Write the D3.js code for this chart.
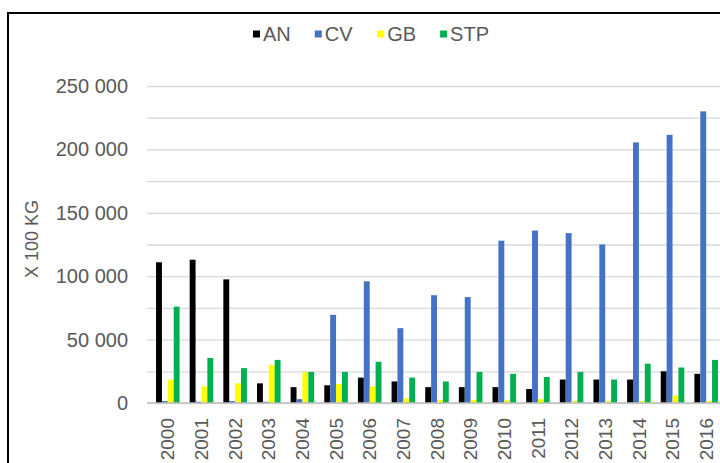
<!DOCTYPE html>
<html>
<head>
<meta charset="utf-8">
<script src="https://cdn.jsdelivr.net/npm/d3@7"></script>
<style>
  body { margin: 0; background: white; }
  #myPlot { width: 720px; height: 463px; overflow: hidden; }
</style>
</head>
<body>
<div id="myPlot"></div>
<script>
const rootSelector = "#myPlot"

const years = ["2000", "2001", "2002", "2003", "2004", "2005", "2006", "2007", "2008",
    "2009", "2010", "2011", "2012", "2013", "2014", "2015", "2016"]
const seriesNames = ["AN", "CV", "GB", "STP"]
const seriesColors = ["#000000", "#4472c4", "#ffff00", "#00b050"]
const anValues = [111000, 113000, 97500, 15500, 12500, 14000, 20000, 17000, 12500,
    12500, 12500, 11000, 18500, 18500, 18500, 25000, 23000]
const cvValues = [1500, 1000, 1500, 1000, 3000, 69500, 96000, 59000, 85000,
    83500, 128000, 136000, 134000, 125000, 205500, 211500, 230000]
const gbValues = [18500, 13000, 15500, 30000, 24500, 15000, 13000, 3500, 2500,
    2500, 2000, 3000, 1500, 1500, 1500, 6000, 1500]
const stpValues = [76000, 35500, 27500, 34000, 24500, 24500, 32500, 20000, 17000,
    24500, 23000, 20500, 24500, 18500, 31000, 28000, 34000]
const yTickValues = [0, 50000, 100000, 150000, 200000, 250000]
const yGridValues = d3.range(0, 250001, 25000)
const yTitle = "X 100 KG"

const allSeries = [anValues, cvValues, gbValues, stpValues]
const records = years.flatMap((year, i) =>
    seriesNames.map((name, j) => ({year: year, name: name, value: allSeries[j][i]})))

const clientWidth = 720
const clientHeight = 463
const fontFamily = "'Liberation Sans', Arial, sans-serif"
const textColor = "#595959"

const svg = d3.select(rootSelector).append("svg")
    .attr("width", clientWidth)
    .attr("height", clientHeight)
    .style("font-family", fontFamily)

// chart frame, right and bottom edges fall outside the picture
svg.append("rect")
    .attr("x", 8)
    .attr("y", 13)
    .attr("width", 800)
    .attr("height", 600)
    .attr("fill", "white")
    .attr("stroke", "black")
    .attr("stroke-width", 2)

const xScale = d3.scaleBand()
    .domain(years)
    .range([151, 723])
    .paddingInner(0.3)
    .paddingOuter(0.15)

const seriesScale = d3.scaleBand()
    .domain(seriesNames)
    .range([0, xScale.bandwidth()])

const yScale = d3.scaleLinear()
    .domain([0, 250000])
    .range([403, 86])

const colorScale = d3.scaleOrdinal()
    .domain(seriesNames)
    .range(seriesColors)

const spaceFormat = d3.formatLocale({decimal: ",", thousands: " ", grouping: [3], currency: ["", ""]}).format(",")

// gridlines
const grid = svg.append("g")
    .attr("transform", "translate(147, 0)")
    .call(d3.axisLeft(yScale).tickValues(yGridValues).tickSize(-600).tickFormat(""))
grid.select(".domain").remove()
grid.selectAll("line").attr("stroke", "#d9d9d9").attr("stroke-width", 1.3)

// y labels
const yAxis = svg.append("g")
    .attr("transform", "translate(147, 0)")
    .call(d3.axisLeft(yScale).tickValues(yTickValues).tickSize(0).tickPadding(19).tickFormat(spaceFormat))
yAxis.select(".domain").remove()
yAxis.selectAll("text")
    .attr("fill", textColor)
    .style("font-size", "20px")
    .style("font-family", fontFamily)

svg.append("text")
    .attr("transform", "translate(32, 239) rotate(-90)")
    .attr("text-anchor", "middle")
    .attr("dy", "0.35em")
    .attr("fill", textColor)
    .style("font-size", "18px")
    .text(yTitle)

// bars
svg.append("g")
    .selectAll("rect")
    .data(records)
    .enter().append("rect")
    .attr("x", d => xScale(d.year) + seriesScale(d.name))
    .attr("y", d => yScale(d.value))
    .attr("width", seriesScale.bandwidth())
    .attr("height", d => yScale(0) - yScale(d.value))
    .attr("fill", d => colorScale(d.name))

// x axis
const xAxis = svg.append("g")
    .attr("transform", `translate(0, ${yScale(0)})`)
    .call(d3.axisBottom(xScale).tickSize(0))
xAxis.select(".domain")
    .attr("d", "M147,0H730")
    .attr("stroke", "#bfbfbf")
    .attr("stroke-width", 1.3)
xAxis.selectAll("text")
    .attr("transform", "rotate(-90)")
    .attr("text-anchor", "end")
    .attr("x", -15)
    .attr("y", 0)
    .attr("dy", "0.35em")
    .attr("fill", textColor)
    .style("font-size", "19px")
    .style("font-family", fontFamily)

// legend
const legendGap = 24
const legend = svg.append("g")
    .attr("transform", "translate(0, 34)")
const items = legend.selectAll("g")
    .data(seriesNames)
    .enter().append("g")
items.append("rect")
    .attr("x", 0)
    .attr("y", -3.5)
    .attr("width", 7)
    .attr("height", 7)
    .attr("fill", d => colorScale(d))
items.append("text")
    .attr("x", 10)
    .attr("dy", "0.35em")
    .attr("fill", textColor)
    .style("font-size", "20px")
    .text(d => d)

let offset = 0
const itemOffsets = []
items.each(function() {
    itemOffsets.push(offset)
    offset += this.getBBox().width + legendGap
})
const legendWidth = offset - legendGap
items.attr("transform", (d, i) => `translate(${371 - legendWidth / 2 + itemOffsets[i]}, 0)`)
</script>
</body>
</html>
